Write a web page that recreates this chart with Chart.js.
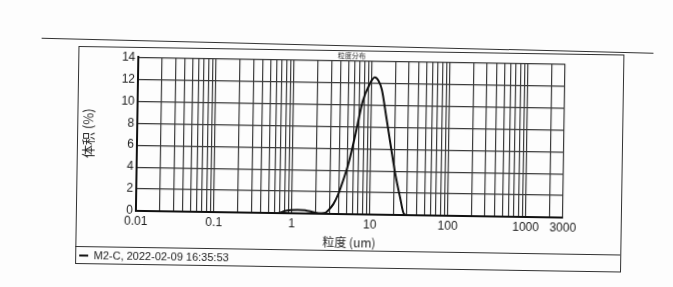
<!DOCTYPE html>
<html>
<head>
<meta charset="utf-8">
<script src="https://cdn.jsdelivr.net/npm/chart.js@4.4.1/dist/chart.umd.min.js"></script>
<style>
  html, body { margin: 0; padding: 0; background: #fdfdfd; overflow: hidden; }
  #page { position: relative; width: 673px; height: 287px; transform: rotate(0.9deg); transform-origin: 336px 143px; }
  #page canvas { position: absolute; left: 0; top: 0; }
  .rule { position: absolute; border-top: 1.5px solid #333; }
  #frame { position: absolute; left: 77px; top: 50px; width: 544px; height: 216px; border: 1.5px solid #333; }
</style>
</head>
<body>
<div id="page">
  <div class="rule" style="left:40px; top:45px; width:612px; transform: rotate(0.5deg);"></div>
  <div id="frame"></div>
  <div class="rule" style="left:77px; top:250px; width:545px;"></div>
  <canvas id="psd" width="673" height="287"></canvas>
</div>
<script>
// particle size (um) and volume (%)
const sizes   = [0.5, 0.66, 0.81, 0.97, 1.19, 1.47, 2.0, 2.4, 2.7, 2.9, 3.4, 3.9, 4.5, 5.2, 6.4, 7.7, 9.4, 10.9, 12.2, 13.5, 15.5, 18.1, 20.9, 24.3, 27.4, 30, 40];
const volumes = [0, 0, 0.2, 0.3, 0.33, 0.3, 0.1, 0.05, 0.1, 0.3, 0.9, 1.8, 3.1, 4.6, 7.5, 10.3, 11.9, 12.5, 12.2, 11.4, 9.0, 6.2, 3.7, 1.6, 0.1, 0, 0];
const xTickLabels = [0.01, 0.1, 1, 10, 100, 1000, 3000];
const yTicks = [0, 2, 4, 6, 8, 10, 12, 14];
const seriesName = 'M2-C, 2022-02-09 16:35:53';

// grid lines at 1..9 of every decade up to 3000
const xGrid = [];
for (let d = -2; d <= 3; d++) {
    for (let m = 1; m <= 9; m++) {
        const v = Number((m * Math.pow(10, d)).toPrecision(6));
        if (v <= 3000) xGrid.push(v);
    }
}

const latin = "'Liberation Sans Narrow', 'Arial Narrow', 'Liberation Sans', sans-serif";
const cjk = "'Noto Sans CJK SC', sans-serif";
const gridColor = '#3a3a3a';

new Chart(document.getElementById('psd'), {
    type: 'line',
    data: {
        datasets: [{
            label: seriesName,
            data: sizes.map((s, i) => ({ x: s, y: volumes[i] })),
            borderColor: '#111',
            borderWidth: 2,
            pointRadius: 0,
            fill: false,
            cubicInterpolationMode: 'monotone'
        }]
    },
    options: {
        responsive: false,
        animation: false,
        layout: { padding: { left: 77, right: 109, top: 0, bottom: 12 } },
        plugins: {
            title: {
                display: true,
                text: '粒度分布',
                fullSize: false,
                color: '#333',
                font: { family: cjk, size: 7, weight: 'normal' },
                padding: { top: 51, bottom: 1 }
            },
            legend: {
                position: 'bottom',
                align: 'start',
                labels: {
                    usePointStyle: true,
                    pointStyle: 'line',
                    pointStyleWidth: 9,
                    color: '#1a1a1a',
                    font: { family: latin, size: 11 },
                    padding: 4
                }
            },
            tooltip: { enabled: false }
        },
        scales: {
            x: {
                type: 'logarithmic',
                min: 0.01,
                max: 3000,
                afterBuildTicks: scale => { scale.ticks = xGrid.map(v => ({ value: v })); },
                afterFit: scale => { scale.height = 36; },
                ticks: {
                    autoSkip: false,
                    maxRotation: 0,
                    padding: 3,
                    color: '#222',
                    font: { family: latin, size: 12 },
                    callback: v => xTickLabels.some(t => Math.abs(t - v) / t < 1e-6) ? String(v) : ''
                },
                grid: { color: gridColor, lineWidth: 1.2, drawTicks: false },
                border: { color: '#111', width: 2 },
                title: {
                    display: true,
                    text: '粒度 (um)',
                    color: '#222',
                    font: { family: cjk, size: 12 },
                    padding: { top: 1, bottom: 0 }
                }
            },
            y: {
                min: 0,
                max: 14,
                afterBuildTicks: scale => { scale.ticks = yTicks.map(v => ({ value: v })); },
                afterFit: scale => { scale.width = 60; },
                ticks: {
                    padding: 3,
                    color: '#222',
                    font: { family: latin, size: 12 }
                },
                grid: { color: gridColor, lineWidth: 1.2, drawTicks: false },
                border: { color: '#111', width: 2 },
                title: {
                    display: true,
                    text: '体积 (%)',
                    color: '#222',
                    font: { family: cjk, size: 13 },
                    padding: { top: 3, bottom: 0 }
                }
            }
        }
    }
});
</script>
</body>
</html>
